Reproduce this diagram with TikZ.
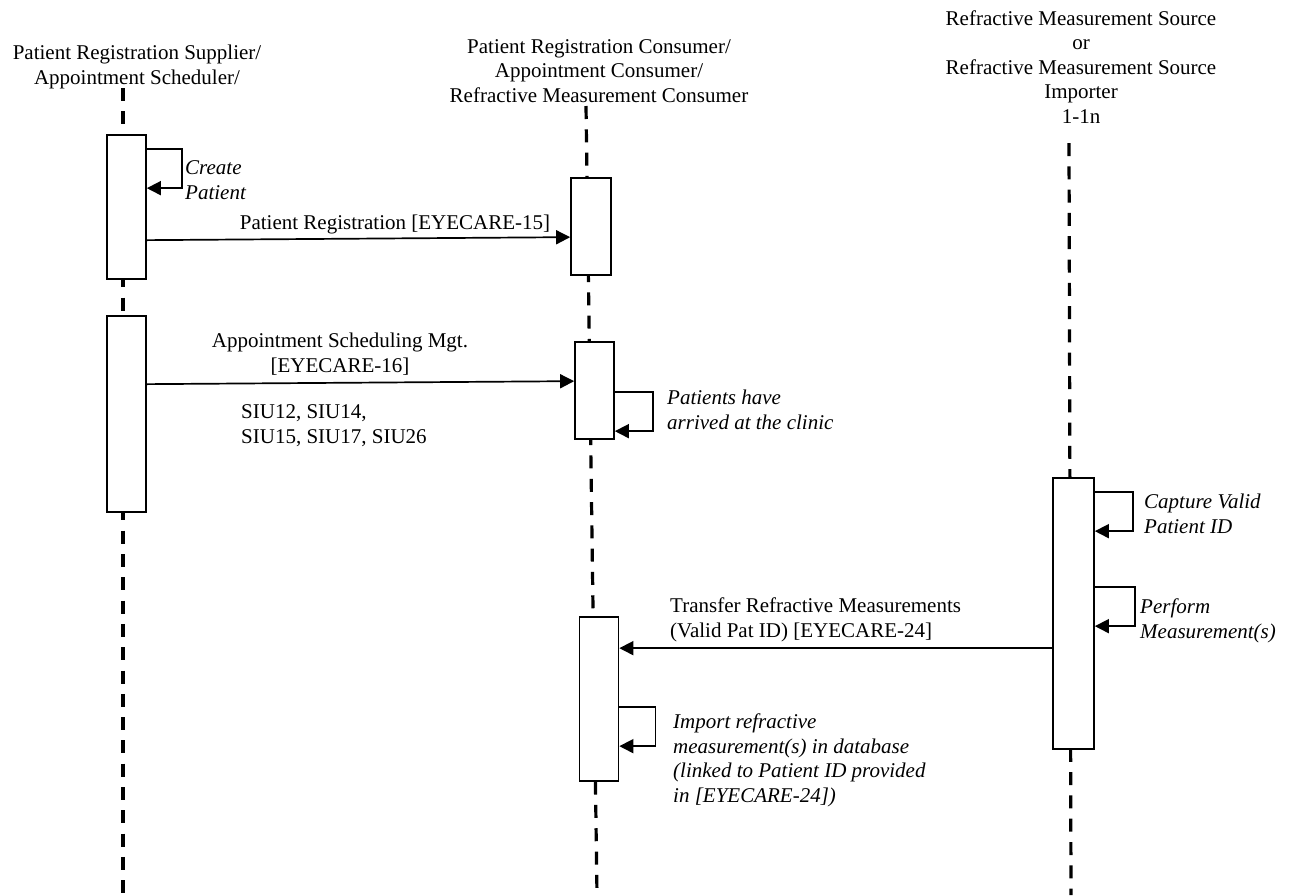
\documentclass[tikz,border=0pt]{standalone}
\usepackage{fontspec}
\setmainfont{Liberation Serif}
\usetikzlibrary{arrows.meta,positioning}

\tikzset{
  lifeline/.style={line width=3.2pt, dash pattern=on 13pt off 10.3pt},
  actbox/.style={draw, line width=1.7pt, fill=white, minimum width=39pt, inner sep=0pt},
  msg/.style={line width=1.7pt, -{Triangle[length=14pt,width=14pt]}},
  txt/.style={inner sep=0pt, align=center},
  note/.style={inner sep=0pt, align=left, font=\fontsize{21}{24.5}\selectfont\itshape},
}

\begin{document}
\begin{tikzpicture}[x=1pt, y=-1pt, font=\fontsize{21}{24.5}\selectfont]
\useasboundingbox (0,0) rectangle (1293,895);

% lifelines
\draw[lifeline] (123,88) -- (123,895);
\draw[lifeline] (586,106) -- (597,895);
\draw[lifeline] (1069,143) -- (1071,895);

\node [txt, anchor=base] (supp) at (137,84) {Patient Registration Supplier/\\Appointment Scheduler/};
\node [txt, anchor=base] (cons) at (599,102) {Patient Registration Consumer/\\Appointment Consumer/\\Refractive Measurement Consumer};
\node [txt, anchor=base] (src) at (1081,123) {Refractive Measurement Source\\or\\Refractive Measurement Source\\Importer\\1-1n};

\node [actbox, minimum height=144pt] (a1) at (126.5,207) {};
\node [actbox, minimum height=196pt] (a2) at (126.5,414) {};
\node [actbox, minimum width=40pt, minimum height=97pt] (b1) at (591,226.5) {};
\node [actbox, minimum height=97pt] (b2) at (594.5,390.5) {};
\node [actbox, minimum height=164pt] (b3) at (599,699) {};
\node [actbox, minimum width=41pt, minimum height=271pt] (c1) at (1073.5,613.5) {};

\draw[msg] ([yshift=-106pt]a1.north east) -- ([yshift=-60pt]b1.north west);
\draw[msg] ([yshift=-69pt]a2.north east) -- ([yshift=-40pt]b2.north west);
\draw[msg] ([yshift=-171pt]c1.north west) -- ([yshift=-32pt]b3.north east);

\draw[msg] ([yshift=-15pt]a1.north east) -- ++(35,0) |- ([yshift=-54pt]a1.north east);
\draw[msg] ([yshift=-51pt]b2.north east) -- ++(38,0) |- ([yshift=-90pt]b2.north east);
\draw[msg] ([yshift=-15pt]c1.north east) -- ++(38,0) |- ([yshift=-54pt]c1.north east);
\draw[msg] ([yshift=-110pt]c1.north east) -- ++(40,0) |- ([yshift=-149pt]c1.north east);
\draw[msg] ([yshift=-91pt]b3.north east) -- ++(36,0) |- ([yshift=-130pt]b3.north east);

\node [txt, anchor=base] (reg) at (395,229) {Patient Registration [EYECARE-15]};
\node [txt, anchor=base] (appt) at (340,372) {Appointment Scheduling Mgt.\\{}[EYECARE-16]};
\node [txt, anchor=base west, align=left] (siu) at (241,443) {SIU12, SIU14,\\SIU15, SIU17, SIU26};
\node [txt, anchor=base west, align=left] (xfer) at (670,637) {Transfer Refractive Measurements\\(Valid Pat ID) [EYECARE-24]};

\node [note, anchor=base west] (create) at (185,199) {Create\\Patient};
\node [note, anchor=base west] (arrive) at (667,429) {Patients have\\arrived at the clinic};
\node [note, anchor=base west] (capture) at (1144,533) {Capture Valid\\Patient ID};
\node [note, anchor=base west] (perform) at (1140,638) {Perform\\Measurement(s)};
\node [note, anchor=base west] (import) at (673,802) {Import refractive\\measurement(s) in database\\(linked to Patient ID provided\\in [EYECARE-24])};
\end{tikzpicture}
\end{document}
